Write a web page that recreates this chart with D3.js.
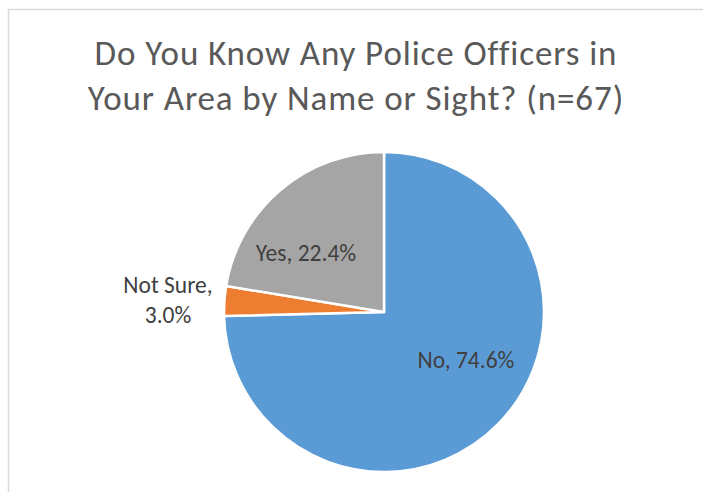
<!DOCTYPE html>
<html>
<head>
<meta charset="utf-8">
<script src="https://cdn.jsdelivr.net/npm/d3@7"></script>
<style>
  body { margin: 0; background: #fff; }
  svg text { font-family: Carlito, Calibri, Lato, "Open Sans", sans-serif; }
</style>
</head>
<body>
<svg id="chart" width="703" height="492"></svg>
<script>
// data
var categories = ["No", "Not Sure", "Yes"];
var percents = [74.6, 3.0, 22.4];
var colors = ["#5B9BD5", "#ED7D31", "#A5A5A5"];
var titleLines = ["Do You Know Any Police Officers in", "Your Area by Name or Sight? (n=67)"];

var width = 703, height = 492;
var cx = 384, cy = 312, radius = 160;

var svg = d3.select("#chart");

// chart frame (runs off right/bottom like the screenshot)
svg.append("rect")
    .attr("x", 8.5).attr("y", 9.5)
    .attr("width", 760).attr("height", 520)
    .attr("fill", "none")
    .attr("stroke", "#d9d9d9")
    .attr("stroke-width", 1.5);

// title
svg.append("g").selectAll("text").data(titleLines).enter()
    .append("text")
    .attr("x", 356)
    .attr("y", function (d, i) { return 65 + i * 45; })
    .attr("text-anchor", "middle")
    .attr("fill", "#595959")
    .style("font-size", "35px")
    .style("letter-spacing", "0.9px")
    .text(function (d) { return d; });

var data = categories.map(function (c, i) {
    return {name: c, value: percents[i], color: colors[i]};
});

var pie = d3.pie().sort(null).value(function (d) { return d.value; });
var arc = d3.arc().innerRadius(0).outerRadius(radius);

var g = svg.append("g").attr("transform", "translate(" + cx + "," + cy + ")");

g.selectAll("path").data(pie(data)).enter()
    .append("path")
    .attr("d", arc)
    .attr("fill", function (d) { return d.data.color; })
    .attr("stroke", "#fff")
    .attr("stroke-width", 2.5)
    .attr("stroke-linejoin", "round");

// labels: position relative to pie centre
var labelPos = {
    "No": [{t: "No, 74.6%", x: 82, y: 56}],
    "Yes": [{t: "Yes, 22.4%", x: -78, y: -51}],
    "Not Sure": [{t: "Not Sure,", x: -216, y: -19}, {t: "3.0%", x: -216, y: 11}]
};

data.forEach(function (d) {
    labelPos[d.name].forEach(function (l) {
        g.append("text")
            .attr("x", l.x).attr("y", l.y)
            .attr("text-anchor", "middle")
            .attr("fill", "#404040")
            .style("font-size", "23.5px")
            .text(l.t);
    });
});
</script>
</body>
</html>
